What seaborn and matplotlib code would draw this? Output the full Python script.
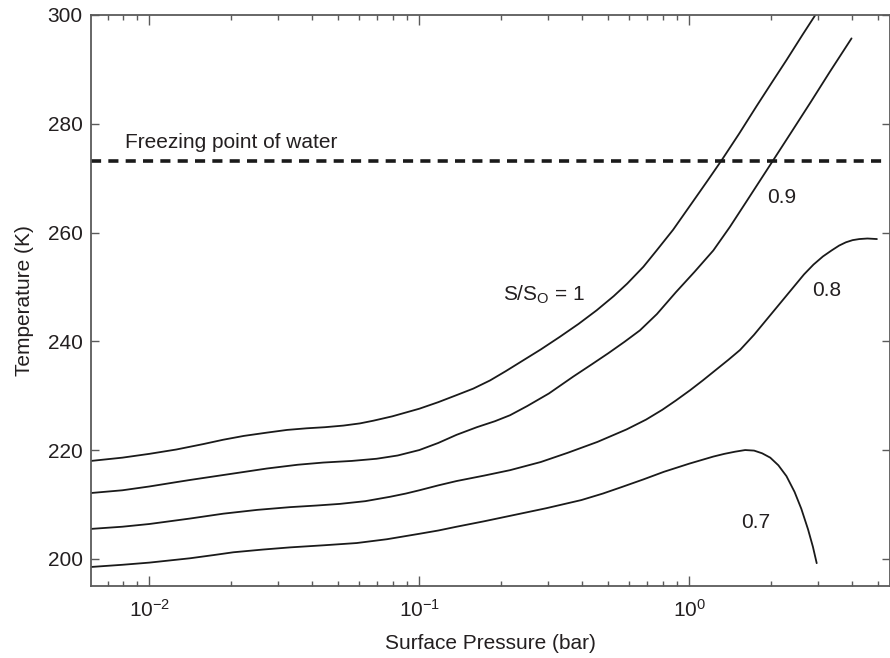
import numpy as np
import pandas as pd
import matplotlib
matplotlib.use("Agg")
import matplotlib.pyplot as plt
import matplotlib.ticker as mticker
import seaborn as sns

# ---- data (log10 of surface pressure in bar, temperature in K) ----
s10_logp = [-2.216, -2.1, -2.0, -1.9, -1.8, -1.726, -1.65, -1.565, -1.49, -1.417, -1.35,
            -1.281, -1.22, -1.17, -1.1, -1.0, -0.93, -0.862, -0.8, -0.738, -0.68, -0.615,
            -0.55, -0.48, -0.41, -0.343, -0.28, -0.23, -0.17, -0.121, -0.06, 0.015, 0.07,
            0.12, 0.185, 0.25, 0.31, 0.36, 0.42, 0.48]
s10_T = [218.0, 218.6, 219.3, 220.1, 221.1, 221.9, 222.6, 223.2, 223.7, 224.0, 224.2,
         224.5, 224.9, 225.4, 226.2, 227.6, 228.8, 230.1, 231.3, 232.8, 234.5, 236.5,
         238.5, 240.8, 243.2, 245.7, 248.3, 250.6, 253.7, 256.7, 260.5, 265.8, 269.7,
         273.3, 278.2, 283.3, 287.9, 291.7, 296.4, 301.0]

s09_logp = [-2.216, -2.1, -2.0, -1.9, -1.849, -1.7, -1.565, -1.45, -1.356, -1.25, -1.158,
            -1.08, -1.0, -0.93, -0.862, -0.787, -0.72, -0.664, -0.6, -0.52, -0.43, -0.36,
            -0.3, -0.24, -0.183, -0.12, -0.05, 0.02, 0.089, 0.15, 0.213, 0.26, 0.311,
            0.38, 0.45, 0.52, 0.601]
s09_T = [212.1, 212.6, 213.3, 214.1, 214.5, 215.6, 216.6, 217.3, 217.7, 218.0, 218.4,
         219.0, 220.0, 221.3, 222.8, 224.2, 225.3, 226.4, 228.1, 230.4, 233.5, 235.8,
         237.8, 239.9, 242.0, 245.0, 249.0, 252.8, 256.7, 261.0, 265.8, 269.4, 273.3,
         278.6, 284.0, 289.5, 295.7]

s08_logp = [-2.216, -2.1, -2.0, -1.85, -1.726, -1.6, -1.479, -1.38, -1.294, -1.2, -1.109,
            -1.05, -1.0, -0.93, -0.862, -0.76, -0.664, -0.55, -0.45, -0.34, -0.232, -0.16,
            -0.1, -0.05, 0.003, 0.05, 0.1, 0.145, 0.188, 0.24, 0.29, 0.34, 0.385, 0.425,
            0.46, 0.495, 0.527, 0.555, 0.58, 0.605, 0.63, 0.66, 0.695]
s08_T = [205.5, 205.9, 206.4, 207.4, 208.3, 209.0, 209.5, 209.8, 210.1, 210.6, 211.4,
         212.0, 212.6, 213.5, 214.3, 215.3, 216.3, 217.8, 219.5, 221.5, 223.8, 225.6,
         227.4, 229.1, 231.0, 232.8, 234.8, 236.6, 238.4, 241.2, 244.2, 247.2, 249.9, 252.3,
         254.1, 255.6, 256.7, 257.6, 258.2, 258.6, 258.8, 258.9, 258.8]

s07_logp = [-2.216, -2.1, -2.0, -1.849, -1.76, -1.689, -1.58, -1.479, -1.35, -1.232, -1.12,
            -1.0, -0.93, -0.862, -0.76, -0.664, -0.53, -0.4, -0.32, -0.25, -0.17, -0.094,
            0.0, 0.089, 0.13, 0.17, 0.207, 0.24, 0.27, 0.30, 0.33, 0.36, 0.39, 0.415,
            0.44, 0.458, 0.472]
s07_T = [198.5, 198.9, 199.3, 200.1, 200.7, 201.2, 201.7, 202.1, 202.5, 202.9, 203.6,
         204.6, 205.2, 205.9, 206.9, 207.9, 209.3, 210.8, 212.0, 213.2, 214.6, 216.0,
         217.5, 218.8, 219.3, 219.7, 220.0, 219.9, 219.4, 218.6, 217.2, 215.2, 212.3, 209.2,
         205.4, 202.2, 199.2]

freeze_p = [0.00608, 5.3]
freeze_T = [273.15, 273.15]

curve_labels = ["S/S$_\\mathrm{O}$ = 1", "0.9", "0.8", "0.7"]
x_ticks = [0.01, 0.1, 1.0]
y_ticks = [200, 220, 240, 260, 280, 300]

# ---- style ----
sns.set_theme(style="ticks")
plt.rcParams["font.family"] = ["Liberation Sans", "DejaVu Sans"]
plt.rcParams["mathtext.fontset"] = "custom"
plt.rcParams["mathtext.rm"] = "Liberation Sans"
plt.rcParams["mathtext.it"] = "Liberation Sans:italic"
plt.rcParams["mathtext.default"] = "regular"

TXT = "#231f20"
LINE = "#1a1a1a"
SPINE = "#5a5a5a"
FS = 15

fig = plt.figure(figsize=(8.9, 6.58), dpi=100)
ax = fig.add_axes([91 / 890, 1 - 586 / 658, (890 - 91) / 890, (586 - 15) / 658])

series = [(s10_logp, s10_T), (s09_logp, s09_T), (s08_logp, s08_T), (s07_logp, s07_T)]
for lp, T in series:
    df = pd.DataFrame({"p": 10 ** np.asarray(lp), "T": T})
    sns.lineplot(data=df, x="p", y="T", ax=ax, sort=False, estimator=None,
                 color=LINE, linewidth=1.3)

sns.lineplot(x=freeze_p, y=freeze_T, ax=ax, sort=False, estimator=None,
             color=LINE, linewidth=2.6, linestyle=(0, (2.8, 2.0)))

ax.set_xscale("log")
ax.set_xlim(0.00608, 5.54)
ax.set_ylim(195.0, 300.0)

ax.xaxis.set_major_locator(mticker.FixedLocator(x_ticks))
ax.xaxis.set_minor_locator(mticker.LogLocator(base=10, subs=np.arange(2, 10), numticks=20))
ax.xaxis.set_major_formatter(mticker.LogFormatterSciNotation())
ax.xaxis.set_minor_formatter(mticker.NullFormatter())
ax.set_yticks(y_ticks)

ax.tick_params(axis="both", which="both", direction="in", top=True, right=True,
               colors=SPINE, labelcolor=TXT, labelsize=FS)
ax.tick_params(axis="x", which="major", length=7, width=1.0, pad=9)
ax.tick_params(axis="x", which="minor", length=3.5, width=1.0)
ax.tick_params(axis="y", which="major", length=6, width=1.0, pad=6)
for sp in ax.spines.values():
    sp.set_color(SPINE)
    sp.set_linewidth(1.3)

ax.set_xlabel("Surface Pressure (bar)", fontsize=FS, color=TXT, labelpad=10)
ax.set_ylabel("Temperature (K)", fontsize=FS, color=TXT, labelpad=10)

ax.text(0.00813, 275.6, "Freezing point of water", fontsize=FS, color=TXT, va="baseline")
ax.text(0.2047, 247.5, curve_labels[0], fontsize=FS, color=TXT, va="baseline")
ax.text(1.935, 265.5, curve_labels[1], fontsize=FS, color=TXT, va="baseline")
ax.text(2.86, 248.4, curve_labels[2], fontsize=FS, color=TXT, va="baseline")
ax.text(1.55, 205.6, curve_labels[3], fontsize=FS, color=TXT, va="baseline")

fig.savefig("out.png", dpi=100)
